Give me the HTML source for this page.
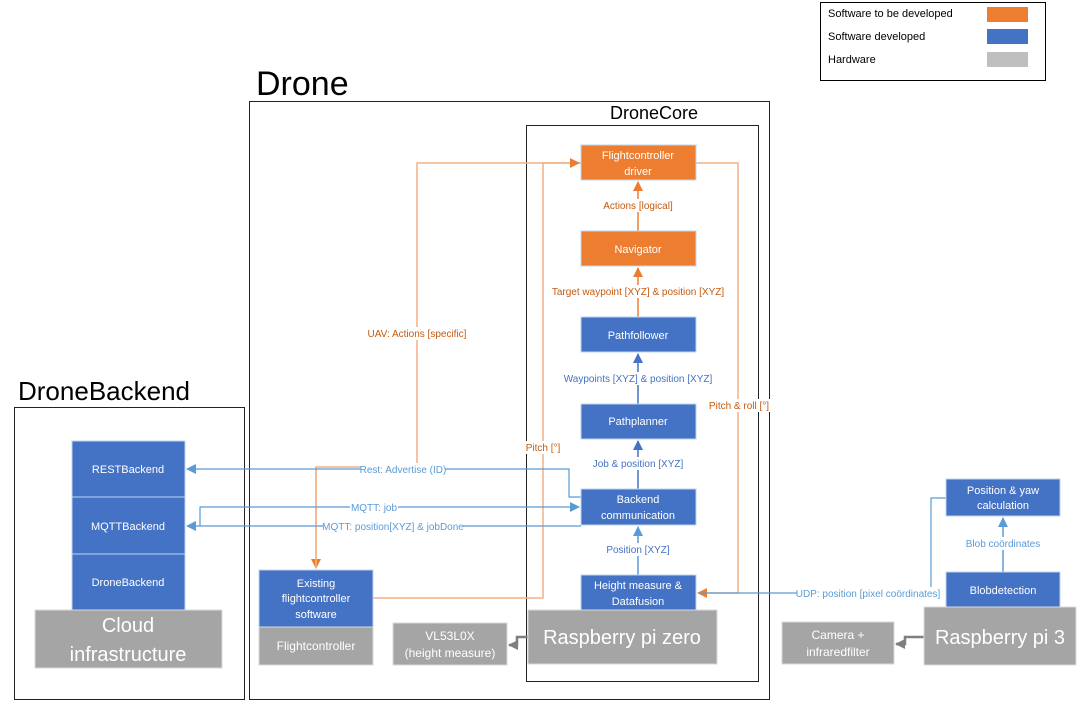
<!DOCTYPE html>
<html><head><meta charset="utf-8"><style>
body{margin:0;background:#fff;}
svg{display:block;font-family:"Liberation Sans",sans-serif;}
</style></head><body>
<svg width="1082" height="708" viewBox="0 0 1082 708" xmlns="http://www.w3.org/2000/svg">
<defs>
<marker id="ao" markerWidth="10" markerHeight="10" refX="9" refY="5" orient="auto" markerUnits="userSpaceOnUse"><path d="M0,0 L10,5 L0,10 z" fill="#ED7D31"/></marker>
<marker id="ab" markerWidth="10" markerHeight="10" refX="9" refY="5" orient="auto" markerUnits="userSpaceOnUse"><path d="M0,0 L10,5 L0,10 z" fill="#4472C4"/></marker>
<marker id="al" markerWidth="10" markerHeight="10" refX="9" refY="5" orient="auto" markerUnits="userSpaceOnUse"><path d="M0,0 L10,5 L0,10 z" fill="#5B9BD5"/></marker>
<marker id="ag" markerWidth="10" markerHeight="10" refX="9" refY="5" orient="auto" markerUnits="userSpaceOnUse"><path d="M0,0 L10,5 L0,10 z" fill="#7F7F7F"/></marker>
</defs>
<!-- Legend -->
<rect x="820.5" y="2.5" width="225" height="78" fill="#fff" stroke="#000"/>
<text x="828" y="17" font-size="11">Software to be developed</text>
<rect x="987" y="7" width="41" height="15" fill="#ED7D31"/>
<text x="828" y="40" font-size="11">Software developed</text>
<rect x="987" y="29" width="41" height="15" fill="#4472C4"/>
<text x="828" y="63" font-size="11">Hardware</text>
<rect x="987" y="52" width="41" height="15" fill="#BFBFBF"/>

<!-- Containers -->
<text x="256" y="95" font-size="34">Drone</text>
<rect x="249.5" y="101.5" width="520" height="598" fill="none" stroke="#222"/>
<text x="610" y="119" font-size="18">DroneCore</text>
<rect x="526.5" y="125.5" width="232" height="556" fill="none" stroke="#222"/>
<text x="18" y="400" font-size="26">DroneBackend</text>
<rect x="14.5" y="407.5" width="230" height="292" fill="none" stroke="#222"/>

<!-- Connectors -->
<g fill="none" stroke-width="1.5">
<polyline points="581,163 417,163 417,467 316,467 316,568" stroke="#F4B183" marker-end="url(#ao)"/>
<polyline points="373,598 543,598 543,163 579,163" stroke="#F4B183" marker-end="url(#ao)"/>
<line x1="316" y1="467" x2="316" y2="568" stroke="#F4B183"/>
<polyline points="696,163 738,163 738,593 698,593" stroke="#F4B183" marker-end="url(#ao)"/>
<polyline points="946,498 931,498 931,593 700,593" stroke="#5B9BD5" stroke-width="1.2"/>
<polyline points="581,497 569,497 569,469 187,469" stroke="#5B9BD5" stroke-width="1.2" marker-end="url(#al)"/>
<polyline points="200,526 200,507 579,507" stroke="#5B9BD5" stroke-width="1.2" marker-end="url(#al)"/>
<polyline points="581,526 187,526" stroke="#5B9BD5" stroke-width="1.2" marker-end="url(#al)"/>
<line x1="638" y1="231" x2="638" y2="182" stroke="#ED7D31" marker-end="url(#ao)"/>
<line x1="638" y1="317" x2="638" y2="268" stroke="#ED7D31" marker-end="url(#ao)"/>
<line x1="638" y1="404" x2="638" y2="354" stroke="#4472C4" marker-end="url(#ab)"/>
<line x1="638" y1="489" x2="638" y2="441" stroke="#4472C4" marker-end="url(#ab)"/>
<line x1="638" y1="575" x2="638" y2="527" stroke="#5B9BD5" marker-end="url(#al)"/>
<line x1="1003" y1="572" x2="1003" y2="518" stroke="#5B9BD5" marker-end="url(#al)"/>
<polyline points="528,637 517,637 517,645 509,645" stroke="#7F7F7F" stroke-width="2.5" marker-end="url(#ag)"/>
<polyline points="924,637 905,637 905,644 896,644" stroke="#7F7F7F" stroke-width="2.5" marker-end="url(#ag)"/>
</g>

<!-- Connector labels -->
<g font-size="10">
<rect x="366" y="327" width="102" height="13" fill="#fff"/>
<text x="417" y="337" text-anchor="middle" fill="#C55A11">UAV: Actions [specific]</text>
<rect x="524" y="441" width="38" height="13" fill="#fff"/>
<text x="543" y="451" text-anchor="middle" fill="#C55A11">Pitch [°]</text>
<rect x="708" y="399" width="62" height="13" fill="#fff"/>
<text x="739" y="409" text-anchor="middle" fill="#C55A11">Pitch &amp; roll [°]</text>
<rect x="602" y="199" width="72" height="13" fill="#fff"/>
<text x="638" y="209" text-anchor="middle" fill="#C55A11">Actions [logical]</text>
<rect x="554" y="285" width="168" height="13" fill="#fff"/>
<text x="638" y="295" text-anchor="middle" fill="#C55A11">Target waypoint [XYZ] &amp; position [XYZ]</text>
<rect x="566" y="372" width="144" height="13" fill="#fff"/>
<text x="638" y="382" text-anchor="middle" fill="#4472C4">Waypoints [XYZ] &amp; position [XYZ]</text>
<rect x="594" y="457" width="88" height="13" fill="#fff"/>
<text x="638" y="467" text-anchor="middle" fill="#4472C4">Job &amp; position [XYZ]</text>
<rect x="608" y="543" width="60" height="13" fill="#fff"/>
<text x="638" y="553" text-anchor="middle" fill="#4472C4">Position [XYZ]</text>
<rect x="361" y="463" width="84" height="13" fill="#fff"/>
<text x="403" y="473" text-anchor="middle" fill="#5B9BD5">Rest: Advertise (ID)</text>
<rect x="350" y="501" width="48" height="13" fill="#fff"/>
<text x="374" y="511" text-anchor="middle" fill="#5B9BD5">MQTT: job</text>
<rect x="323" y="520" width="140" height="13" fill="#fff"/>
<text x="393" y="530" text-anchor="middle" fill="#5B9BD5">MQTT: position[XYZ] &amp; jobDone</text>
<rect x="797" y="587" width="143" height="13" fill="#fff"/>
<text x="868" y="597" text-anchor="middle" fill="#5B9BD5">UDP: position [pixel coördinates]</text>
<rect x="963" y="537" width="80" height="13" fill="#fff"/>
<text x="1003" y="547" text-anchor="middle" fill="#5B9BD5">Blob coördinates</text>
</g>

<!-- Nodes -->
<g stroke="#BDD7EE" stroke-width="1">
<rect x="581" y="145" width="115" height="35" fill="#ED7D31"/>
<rect x="581" y="231" width="115" height="35" fill="#ED7D31"/>
<rect x="581" y="317" width="115" height="35" fill="#4472C4"/>
<rect x="581" y="404" width="115" height="35" fill="#4472C4"/>
<rect x="581" y="489" width="115" height="36" fill="#4472C4"/>
<rect x="581" y="575" width="115" height="35" fill="#4472C4"/>
<rect x="259" y="570" width="114" height="57" fill="#4472C4"/>
<rect x="72" y="441" width="113" height="56" fill="#4472C4"/>
<rect x="72" y="497" width="113" height="57" fill="#4472C4"/>
<rect x="72" y="554" width="113" height="56" fill="#4472C4"/>
<rect x="946" y="479" width="114" height="37" fill="#4472C4"/>
<rect x="946" y="572" width="114" height="36" fill="#4472C4"/>
</g>
<g stroke="#D9D9D9" stroke-width="1" fill="#A5A5A5">
<rect x="528" y="610" width="189" height="54"/>
<rect x="393" y="623" width="114" height="42"/>
<rect x="259" y="627" width="114" height="38"/>
<rect x="35" y="610" width="187" height="58"/>
<rect x="924" y="607" width="152" height="58"/>
<rect x="782" y="622" width="112" height="42"/>
</g>
<g fill="#fff" font-size="11" text-anchor="middle">
<text x="638" y="159">Flightcontroller</text><text x="638" y="175">driver</text>
<text x="638" y="253">Navigator</text>
<text x="638" y="339">Pathfollower</text>
<text x="638" y="425">Pathplanner</text>
<text x="638" y="503">Backend</text><text x="638" y="519">communication</text>
<text x="638" y="589">Height measure &amp;</text><text x="638" y="605">Datafusion</text>
<text x="316" y="587">Existing</text><text x="316" y="602">flightcontroller</text><text x="316" y="618">software</text>
<text x="128" y="473">RESTBackend</text>
<text x="128" y="530">MQTTBackend</text>
<text x="128" y="586">DroneBackend</text>
<text x="1003" y="494">Position &amp; yaw</text><text x="1003" y="509">calculation</text>
<text x="1003" y="594">Blobdetection</text>
<text x="316" y="650" font-size="12">Flightcontroller</text>
<text x="450" y="640" font-size="12">VL53L0X</text><text x="450" y="657" font-size="12">(height measure)</text>
<text x="838" y="639" font-size="12">Camera +</text><text x="838" y="656" font-size="12">infraredfilter</text>
<text x="622" y="644" font-size="20">Raspberry pi zero</text>
<text x="1000" y="644" font-size="20">Raspberry pi 3</text>
<text x="128" y="632" font-size="20">Cloud</text><text x="128" y="661" font-size="20">infrastructure</text>
</g>
</svg>
</body></html>
